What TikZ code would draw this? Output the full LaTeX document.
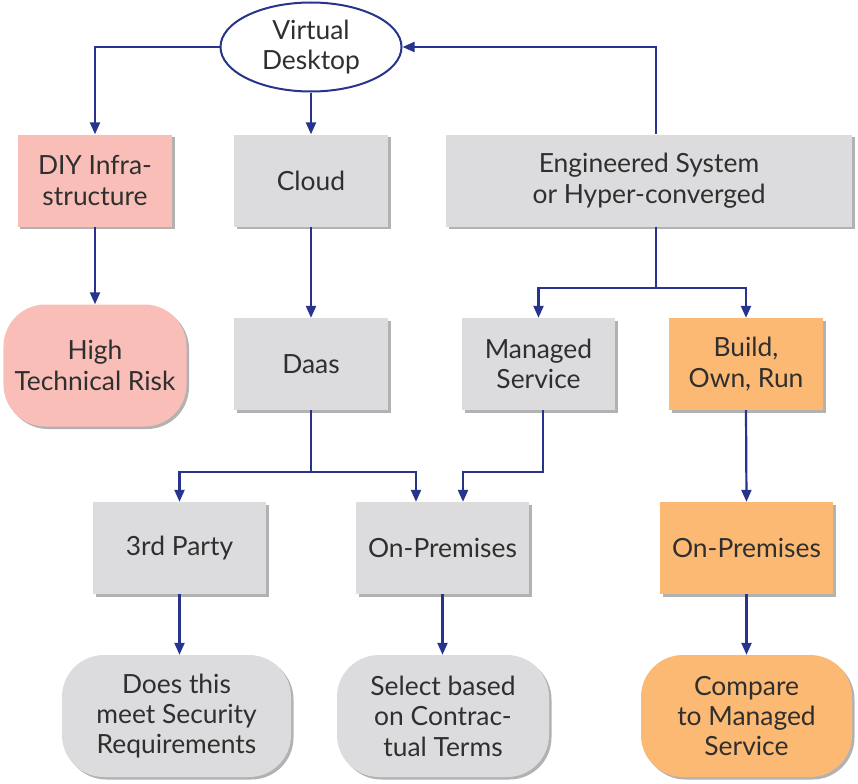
\documentclass[tikz,border=0pt]{standalone}
\usepackage{fontspec}
\setmainfont{Lato}
\usepackage{tikz}
\usetikzlibrary{positioning,arrows.meta,calc,shapes.geometric,shadows}
\definecolor{navy}{HTML}{27338C}
\definecolor{boxgray}{HTML}{DCDCDE}
\definecolor{pink}{HTML}{F9BEB8}
\definecolor{peach}{HTML}{FBB973}
\definecolor{ink}{HTML}{2F2F2F}

\begin{document}
\begin{tikzpicture}[
    x=1bp, y=-1bp,
    every node/.style={text=ink, font=\fontsize{26.5}{30.5}\selectfont, align=center, inner sep=0pt},
    box/.style={fill=boxgray, minimum height=92bp,
      drop shadow={shadow xshift=2.5bp, shadow yshift=-2.5bp, opacity=0.3, fill=black}},
    endbox/.style={box, rounded corners=42bp, minimum height=122bp},
    arr/.style={-{Triangle[length=12bp, width=10bp]}, line width=2.2bp, navy}
  ]
    \useasboundingbox (0,0) rectangle (858,784);

    \node[ellipse, draw=navy, line width=2bp, fill=white, minimum width=181bp, minimum height=89bp] (vd) at (311,47) {Virtual\\Desktop};

    \node[box, fill=pink, minimum width=154bp] (diy) at (95,180.5) {DIY Infra-\\structure};
    \node[box, minimum width=154bp] (cloud) at (311,180.5) {Cloud};
    \node[box, minimum width=406bp] (eng) at (649,180.5) {Engineered System\\or Hyper-converged};

    \node[endbox, fill=pink, minimum width=183bp] (risk) at (95,365.5) {High\\Technical Risk};
    \node[box, minimum width=154bp] (daas) at (311,364) {Daas};
    \node[box, minimum width=153bp] (managed) at (538.5,364) {Managed\\Service};
    \node[box, fill=peach, minimum width=154bp] (bor) at (746,364) {Build,\\Own, Run};

    \node[box, minimum width=173bp] (third) at (179.5,548) {3rd Party};
    \node[box, minimum width=173bp] (onprem) at (442.5,548) {On-Premises};
    \node[box, fill=peach, minimum width=173bp] (onpremr) at (746.5,548) {On-Premises};

    \node[endbox, minimum width=229bp] (security) at (176.5,716) {Does this\\meet Security\\Requirements};
    \node[endbox, minimum width=212bp] (select) at (443,716) {Select based\\on Contrac-\\tual Terms};
    \node[endbox, fill=peach, minimum width=211bp] (compare) at (746.5,716) {Compare\\to Managed\\Service};

    % top level
    \draw[arr] (vd.west) -| (diy.north);
    \draw[arr] (vd.south) -- (cloud.north);
    \draw[arr] ([xshift=7bp]eng.north) |- (vd.east);

    \draw[arr] (diy.south) -- (risk.north);
    \draw[arr] (cloud.south) -- (daas.north);
    \draw[arr] ([xshift=7bp]eng.south) -- ++(0,61) -| (managed.north);
    \draw[arr] ([xshift=7bp]eng.south) -- ++(0,61) -| (bor.north);

    % second level
    \draw[arr] (daas.south) -- ++(0,62) -| (third.north);
    \draw[arr] (daas.south) -- ++(0,62) -| ([xshift=-26.5bp]onprem.north);
    \draw[arr] ([xshift=4.5bp]managed.south) -- ++(0,62) -| ([xshift=20.5bp]onprem.north);
    \draw[arr] (bor.south) -- (onpremr.north);

    % results
    \draw[arr] (third.south) -- (third.south |- security.north);
    \draw[arr] (onprem.south) -- (onprem.south |- select.north);
    \draw[arr] (onpremr.south) -- (compare.north);
  \end{tikzpicture}
\end{document}
